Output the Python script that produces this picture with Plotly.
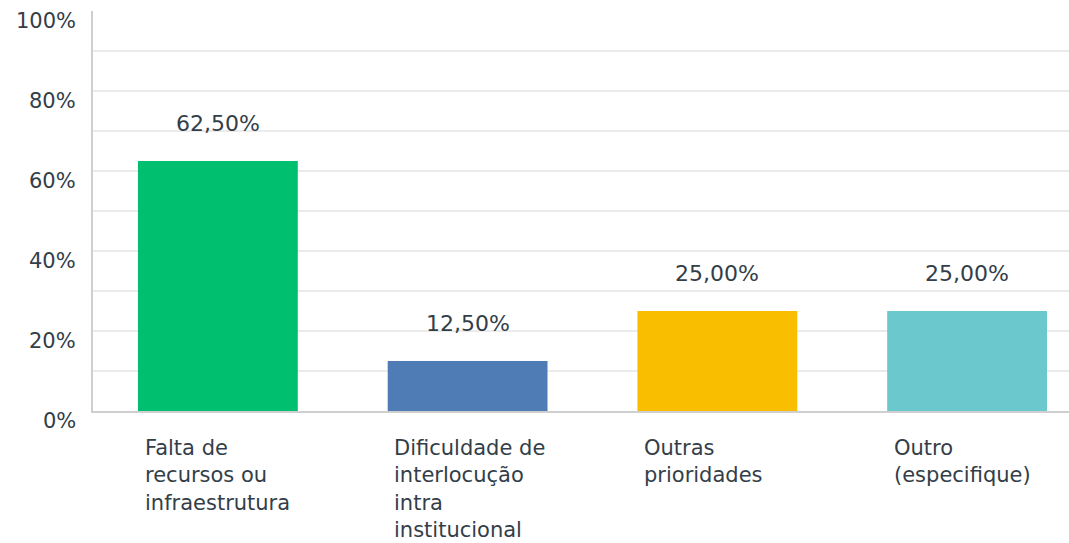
import plotly.graph_objects as go

# Dados do gráfico
categorias = ["Falta de<br>recursos ou<br>infraestrutura",
              "Dificuldade de<br>interlocução<br>intra<br>institucional",
              "Outras<br>prioridades",
              "Outro<br>(especifique)"]
valores = [62.5, 12.5, 25.0, 25.0]
rotulos = ["62,50%", "12,50%", "25,00%", "25,00%"]
cores = ["#00BF6F", "#507CB6", "#F9BE00", "#6BC8CD"]
ticks_y = [0, 20, 40, 60, 80, 100]
ticks_txt = ["0%", "20%", "40%", "60%", "80%", "100%"]

FONTE = "DejaVu Sans"
COR_TXT = "#333e48"

x_idx = list(range(len(valores)))

fig = go.Figure(go.Bar(
    x=x_idx,
    y=valores,
    width=0.64,
    marker=dict(color=cores, line=dict(width=0)),
    hoverinfo="skip",
))

# Rótulos de valor acima das barras
for i, (v, t) in enumerate(zip(valores, rotulos)):
    fig.add_annotation(x=i, y=v, text=t, showarrow=False,
                       yanchor="bottom", yshift=23,
                       font=dict(family=FONTE, size=22, color=COR_TXT))

# Rótulos das categorias, alinhados à esquerda
for i, c in enumerate(categorias):
    fig.add_annotation(x=i - 0.297, y=0, xref="x", yref="paper", text=c,
                       showarrow=False, xanchor="left", yanchor="top",
                       align="left", yshift=-24, borderpad=0,
                       font=dict(family=FONTE, size=21, color=COR_TXT))

# Rótulos do eixo y um pouco abaixo da linha (como no original)
for v, t in zip(ticks_y, ticks_txt):
    fig.add_annotation(x=0, xref="paper", y=v, yref="y", text=t,
                       showarrow=False, xanchor="right", yanchor="middle",
                       xshift=-15, yshift=-10,
                       font=dict(family=FONTE, size=21, color=COR_TXT))

fig.update_xaxes(range=[-0.5, 3.408], showticklabels=False, showgrid=False,
                 zeroline=False, showline=True, linecolor="#cfcfcf",
                 linewidth=2, fixedrange=True)

fig.update_yaxes(range=[0, 100], tickvals=ticks_y, showticklabels=False,
                 showgrid=False, zeroline=False, fixedrange=True,
                 showline=True, linecolor="#cfcfcf", linewidth=2, ticks="")

# Linhas de grade a cada 10%
fig.update_yaxes(minor=dict(dtick=10, showgrid=True, gridcolor="#ebebeb",
                            gridwidth=2, ticks=""))

fig.update_layout(
    width=1069, height=543,
    margin=dict(l=93, r=0, t=11, b=132),
    plot_bgcolor="white", paper_bgcolor="white",
    showlegend=False,
)

# Tira a margem padrão do body pra figura ocupar a janela toda
fig.write_html("out.html", config={"displayModeBar": False},
               post_script="document.body.style.margin='0';")
